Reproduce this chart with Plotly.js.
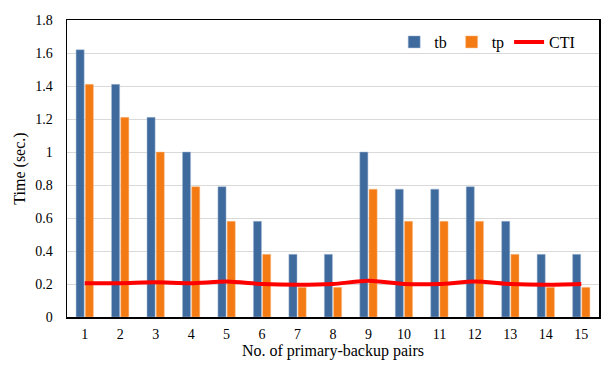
<!DOCTYPE html>
<html>
<head>
<meta charset="utf-8">
<script src="https://cdn.plot.ly/plotly-3.0.1.min.js"></script>
<style>
  html, body { margin: 0; padding: 0; background: #fff; }
  #chart { width: 612px; height: 371px; }
</style>
</head>
<body>
<div id="chart"></div>
<script>
// Data
const pairs = ['1', '2', '3', '4', '5', '6', '7', '8', '9', '10', '11', '12', '13', '14', '15'];
const tbValues = [1.62, 1.41, 1.21, 1.0, 0.79, 0.58, 0.38, 0.38, 1.0, 0.775, 0.775, 0.79, 0.58, 0.38, 0.38];
const tpValues = [1.41, 1.21, 1.0, 0.79, 0.58, 0.38, 0.18, 0.18, 0.775, 0.58, 0.58, 0.58, 0.38, 0.18, 0.18];
const ctiValues = [0.205, 0.205, 0.21, 0.205, 0.215, 0.2, 0.195, 0.2, 0.22, 0.2, 0.2, 0.215, 0.2, 0.195, 0.2];
const yTicks = [0, 0.2, 0.4, 0.6, 0.8, 1, 1.2, 1.4, 1.6, 1.8];

const serif = "'Liberation Serif', 'Times New Roman', Times, serif";

const traces = [
    {
        x: pairs, y: tbValues, name: 'tb', type: 'bar',
        marker: { color: '#3f6a9e', line: { color: '#a9bcd6', width: 0.5 } }
    },
    {
        x: pairs, y: tpValues, name: 'tp', type: 'bar',
        marker: { color: '#f47a14', line: { color: '#f9c08f', width: 0.5 } }
    },
    {
        x: pairs, y: ctiValues, name: 'CTI', type: 'scatter', mode: 'lines',
        line: { color: '#ff0000', width: 4, shape: 'spline', smoothing: 0.6 }
    }
];

const layout = {
    width: 612,
    height: 371,
    margin: { l: 67, r: 13, t: 20, b: 54 },
    paper_bgcolor: '#fff',
    plot_bgcolor: '#fff',
    font: { family: serif, size: 14, color: '#000' },
    barmode: 'group',
    bargap: 0.48,
    bargroupgap: 0.12,
    showlegend: true,
    legend: {
        orientation: 'h',
        x: 0.615, xanchor: 'left',
        y: 0.926, yanchor: 'middle',
        bgcolor: 'rgba(0,0,0,0)',
        font: { family: serif, size: 16 },
        itemwidth: 30,
        traceorder: 'normal'
    },
    xaxis: {
        type: 'category',
        showline: true, linecolor: '#000', linewidth: 1.5, mirror: true,
        ticks: '', tickfont: { family: serif, size: 14 },
        ticklabelstandoff: 4,
        title: { text: 'No. of primary-backup pairs', font: { family: serif, size: 16 }, standoff: 2 }
    },
    yaxis: {
        range: [0, 1.8],
        tickvals: yTicks,
        ticktext: yTicks.map(String),
        showgrid: true, gridcolor: '#d9d9d9', gridwidth: 1,
        zeroline: false,
        showline: true, linecolor: '#000', linewidth: 1.5, mirror: true,
        ticks: '', tickfont: { family: serif, size: 14 },
        ticklabelstandoff: 10,
        title: { text: 'Time (sec.)', font: { family: serif, size: 16 }, standoff: 5 }
    }
};

Plotly.newPlot('chart', traces, layout, { displayModeBar: false, staticPlot: true });
</script>
</body>
</html>
